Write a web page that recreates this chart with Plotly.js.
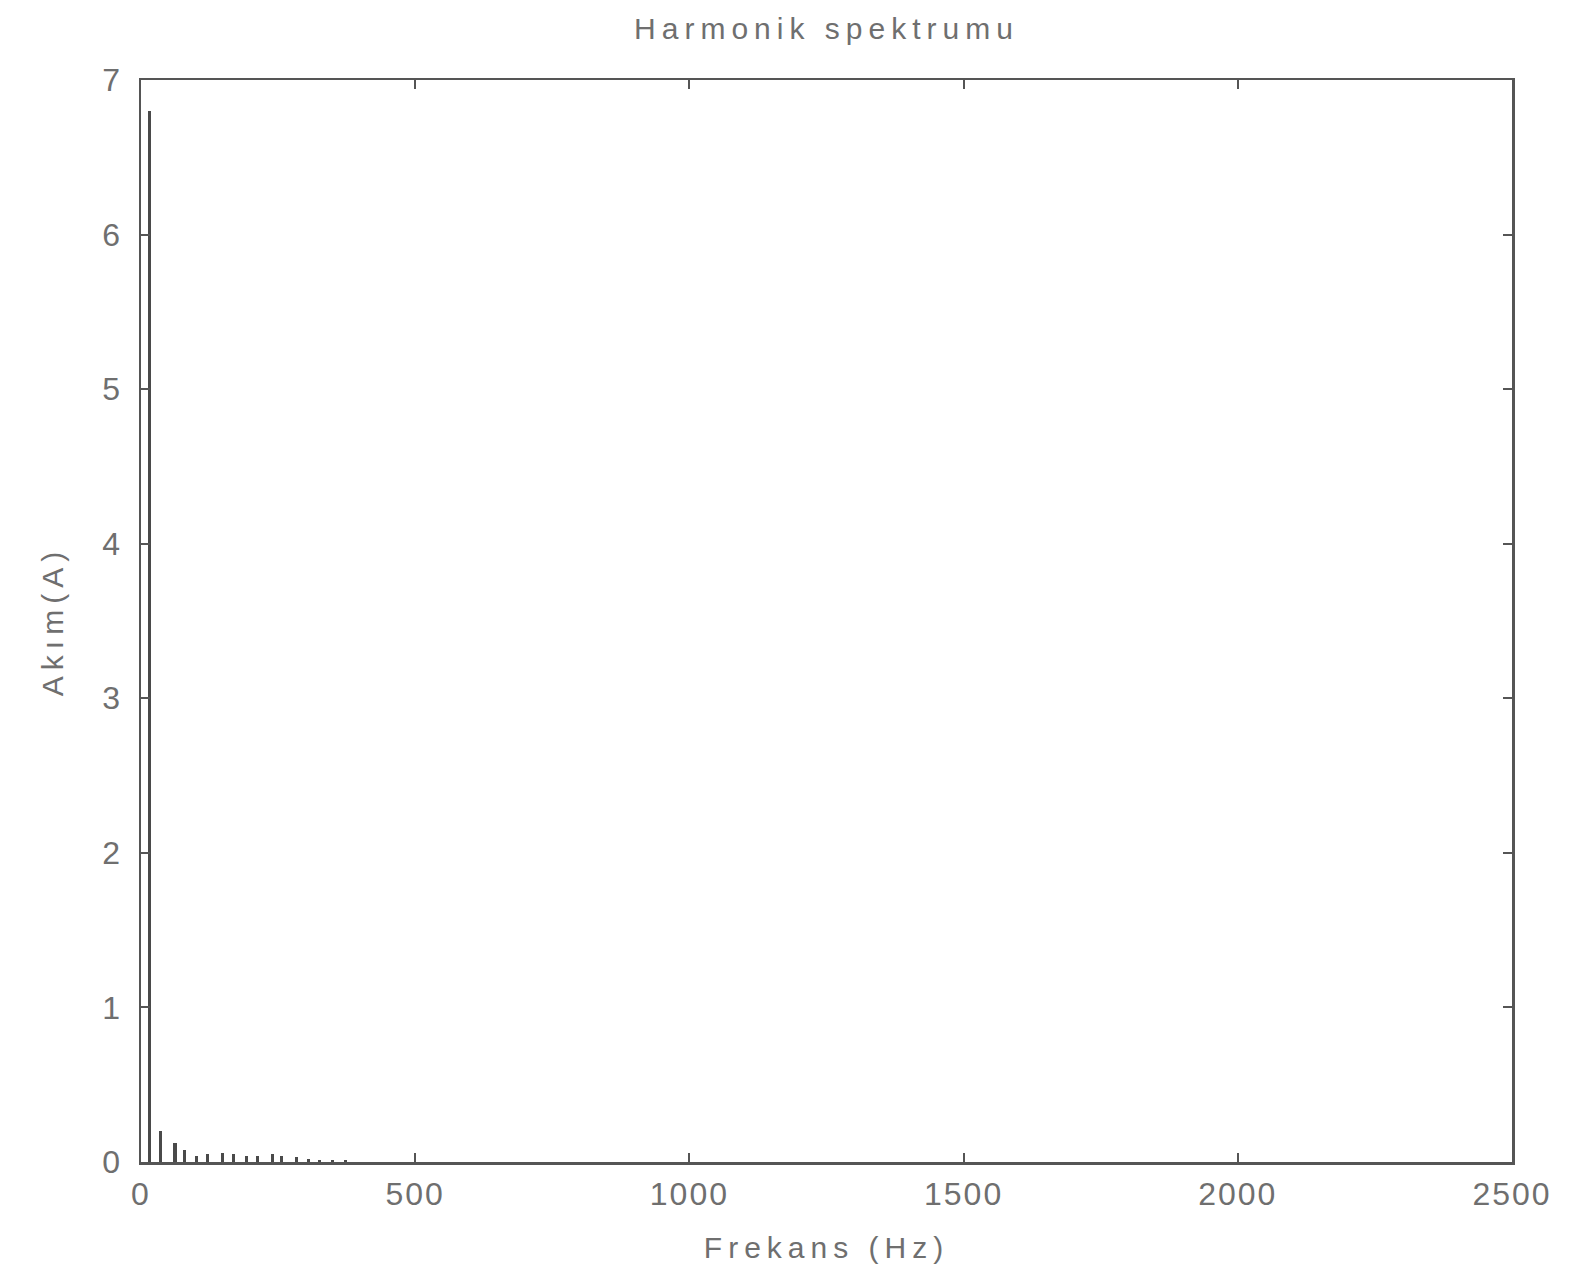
<!DOCTYPE html>
<html>
<head>
<meta charset="utf-8">
<script src="https://cdn.plot.ly/plotly-3.0.1.min.js"></script>
<style>
html, body { margin: 0; padding: 0; background: #ffffff; }
#chart { width: 1582px; height: 1281px; }
.gtitle, .xtitle, .ytitle { letter-spacing: 6px; }
.xtick text, .ytick text { letter-spacing: 2px; }
</style>
</head>
<body>
<div id="chart"></div>
<script>
// Harmonic spectrum values
const frequencyHz = [16, 35, 62, 80, 102, 122, 148, 168, 193, 212, 239, 257, 284, 305, 326, 350, 372];
const currentA    = [6.80, 0.20, 0.12, 0.08, 0.04, 0.05, 0.06, 0.05, 0.04, 0.04, 0.05, 0.04, 0.03, 0.02, 0.015, 0.01, 0.01];

const xTickVals = [0, 500, 1000, 1500, 2000, 2500];
const yTickVals = [0, 1, 2, 3, 4, 5, 6, 7];

const titleText = 'Harmonik spektrumu';
const xTitleText = 'Frekans (Hz)';
const yTitleText = 'Akım(A)';

const textColor = '#6f6f6f';
const lineColor = '#555555';

const trace = {
  type: 'bar',
  x: frequencyHz,
  y: currentA,
  width: 5.5,
  marker: { color: '#4a4a4a', line: { width: 0 } },
  hoverinfo: 'x+y'
};

const axisCommon = {
  showgrid: false,
  zeroline: false,
  showline: true,
  linecolor: lineColor,
  linewidth: 2.5,
  mirror: 'ticks',
  ticks: 'inside',
  ticklen: 9,
  tickwidth: 2,
  tickcolor: lineColor,
  tickfont: { family: 'Liberation Sans, Arial, sans-serif', size: 32, color: textColor }
};

const layout = {
  width: 1582,
  height: 1281,
  paper_bgcolor: '#ffffff',
  plot_bgcolor: '#ffffff',
  showlegend: false,
  bargap: 0,
  margin: { l: 141, r: 70, t: 80, b: 119 },
  title: {
    text: titleText,
    font: { family: 'Liberation Sans, Arial, sans-serif', size: 30, color: textColor },
    xref: 'paper',
    x: 0.5,
    xanchor: 'center',
    yref: 'container',
    y: 1 - 28 / 1281,
    yanchor: 'middle'
  },
  xaxis: Object.assign({}, axisCommon, {
    range: [0, 2500],
    tickvals: xTickVals,
    ticktext: xTickVals.map(String),
    ticklabelstandoff: 2,
    title: {
      text: xTitleText,
      font: { family: 'Liberation Sans, Arial, sans-serif', size: 30, color: textColor },
      standoff: 26
    }
  }),
  yaxis: Object.assign({}, axisCommon, {
    range: [0, 7],
    tickvals: yTickVals,
    ticktext: yTickVals.map(String),
    ticklabelstandoff: 10,
    title: {
      text: yTitleText,
      font: { family: 'Liberation Sans, Arial, sans-serif', size: 30, color: textColor },
      standoff: 30
    }
  })
};

Plotly.newPlot('chart', [trace], layout, { displayModeBar: false, staticPlot: true });
</script>
</body>
</html>
